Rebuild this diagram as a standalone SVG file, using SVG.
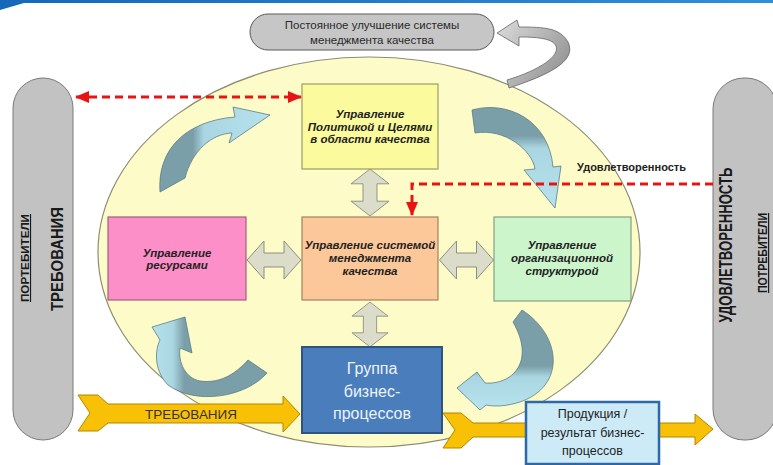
<svg xmlns="http://www.w3.org/2000/svg" xmlns:xlink="http://www.w3.org/1999/xlink" width="773" height="465" viewBox="0 0 773 465">
<defs>
<style>
.lbl{font-family:"Liberation Sans",Arial,sans-serif;font-weight:bold;font-style:italic;font-size:11.5px;fill:#222;text-anchor:middle}
.bar{fill:#c2c2c2;stroke:#7a7a7a;stroke-width:1}
.bartxt{font-family:"Liberation Sans",Arial,sans-serif;font-weight:bold;fill:#1a1a1a;text-anchor:middle}
.dash{fill:none;stroke:#e81414;stroke-width:3;stroke-dasharray:8 5}
.dbl{fill:#dcdccb;stroke:#8e8e7e;stroke-width:1}
.yarrow{fill:#f9c106;stroke:#b08600;stroke-width:1}
.carrow{stroke:#5b7c84;stroke-width:0.8}
.box{stroke-width:1.2}
</style>
<linearGradient id="topband" x1="0" y1="0" x2="1" y2="0">
<stop offset="0" stop-color="#1668b8"/><stop offset="1" stop-color="#2f8fd8"/>
</linearGradient>
<linearGradient id="grayArrow" gradientUnits="userSpaceOnUse" x1="500" y1="30" x2="570" y2="80">
<stop offset="0" stop-color="#d6d6d6"/><stop offset="1" stop-color="#8c8c8c"/>
</linearGradient>
<linearGradient id="gA1" gradientUnits="userSpaceOnUse" x1="160" y1="0" x2="270" y2="0">
<stop offset="0" stop-color="#7b9fa9"/><stop offset="0.3" stop-color="#7b9fa9"/><stop offset="0.4" stop-color="#aad6e2"/><stop offset="1" stop-color="#b6e2ee"/>
</linearGradient>
<linearGradient id="gA2" gradientUnits="userSpaceOnUse" x1="0" y1="105" x2="0" y2="208">
<stop offset="0" stop-color="#7b9fa9"/><stop offset="0.3" stop-color="#7b9fa9"/><stop offset="0.42" stop-color="#aad6e2"/><stop offset="1" stop-color="#b6e2ee"/>
</linearGradient>
<linearGradient id="gA3" gradientUnits="userSpaceOnUse" x1="0" y1="312" x2="0" y2="405">
<stop offset="0" stop-color="#7b9fa9"/><stop offset="0.58" stop-color="#7b9fa9"/><stop offset="0.7" stop-color="#aad6e2"/><stop offset="1" stop-color="#b6e2ee"/>
</linearGradient>
<linearGradient id="gA4" gradientUnits="userSpaceOnUse" x1="267" y1="0" x2="152" y2="0">
<stop offset="0" stop-color="#7b9fa9"/><stop offset="0.72" stop-color="#7b9fa9"/><stop offset="0.82" stop-color="#aad6e2"/><stop offset="1" stop-color="#b6e2ee"/>
</linearGradient>
<marker id="redhead" markerUnits="userSpaceOnUse" viewBox="0 0 14 12" markerWidth="14" markerHeight="12" refX="13" refY="6" orient="auto-start-reverse">
<path d="M0,0 L14,6 L0,12 Z" fill="#e81414"/>
</marker>
<path id="dblh" class="dbl" d="M-27,0 L-10,-19 L-10,-7 L10,-7 L10,-19 L27,0 L10,19 L10,7 L-10,7 L-10,19 Z"/>
</defs>

<rect width="773" height="465" fill="#ffffff"/>
<g id="top-band">
<polygon points="0,0 773,0 773,3 24,3 0,10" fill="url(#topband)"/>
</g>

<g id="ellipse">
<ellipse cx="369" cy="252" rx="271" ry="195" fill="#fdfcc9" stroke="#8d8d72" stroke-width="1.2"/>
</g>

<g id="left-bar">
<rect class="bar" x="13" y="78" width="60" height="362" rx="30"/>
<text class="bartxt" transform="translate(29,258) rotate(-90)" font-size="11" text-decoration="underline" textLength="88" lengthAdjust="spacingAndGlyphs">ПОРТЕБИТЕЛИ</text>
<text class="bartxt" transform="translate(63,259) rotate(-90)" font-size="16" textLength="104" lengthAdjust="spacingAndGlyphs">ТРЕБОВАНИЯ</text>
</g>

<g id="right-bar">
<rect class="bar" x="713" y="78" width="64" height="362" rx="31"/>
<text class="bartxt" transform="translate(732,245) rotate(-90)" font-size="19" textLength="155" lengthAdjust="spacingAndGlyphs">УДОВЛЕТВОРЕННОСТЬ</text>
<text class="bartxt" transform="translate(767,253) rotate(-90)" font-size="12" text-decoration="underline" textLength="80" lengthAdjust="spacingAndGlyphs">ПОТРЕБИТЕЛИ</text>
</g>

<g id="connectors">
<path d="M509,88 C545,76 578,62 568,42 C560,28 545,27 519,27 L517,20 L497,33 L519,46 L519,37 C540,37 553,39 556,46 C560,56 540,70 507,80 Z" fill="url(#grayArrow)" stroke="#666" stroke-width="0.8"/>
<path class="carrow" fill="url(#gA1)" d="M160,192 C157,150 185,121 235,117 L233,107 L270,115 L229,143 L232,133 C211,134 192,151 185,178 Z"/>
<path class="carrow" fill="url(#gA2)" d="M472,110 C507,100 549,120 553,167 L561,166 L555,208 L524,170 L535,169 C532,150 505,128 475,133 Z"/>
<path class="carrow" fill="url(#gA3)" d="M522,310 C562,336 566,386 520,402 C507,406 496,407 486,405 L480,410 L457,388 L477,372 L485,383 C512,385 536,362 513,322 Z"/>
<path class="carrow" fill="url(#gA4)" d="M267,373 C245,398 195,405 168,385 C155,372 154,352 160,340 L152,327 L185,317 L192,353 L180,348 C178,362 185,378 200,381 C222,384 237,372 248,360 Z"/>
<use xlink:href="#dblh" href="#dblh" transform="translate(274,260)"/>
<use xlink:href="#dblh" href="#dblh" transform="translate(466.5,260)"/>
<use xlink:href="#dblh" href="#dblh" transform="translate(370,192.5) rotate(90) scale(0.87,1)"/>
<use xlink:href="#dblh" href="#dblh" transform="translate(370,324.5) rotate(90) scale(0.83,0.95)"/>
<polyline class="dash" points="76,97 301,97" marker-start="url(#redhead)" marker-end="url(#redhead)"/>
<polyline class="dash" points="713,184 412,184 412,215" marker-end="url(#redhead)"/>
<text x="577" y="171" font-family="Liberation Sans, Arial, sans-serif" font-weight="bold" font-size="11" fill="#222">Удовлетворенность</text>
<polygon class="yarrow" points="78,395 98,395 108,404 283,404 283,396 300,414 283,432 283,423 108,423 98,431 78,431 90,413"/>
<text x="191" y="419" font-family="Liberation Sans, Arial, sans-serif" font-size="13.5" fill="#333" text-anchor="middle" textLength="92" lengthAdjust="spacingAndGlyphs">ТРЕБОВАНИЯ</text>
<polygon class="yarrow" points="443,413 461,413 473,423 695,423 695,414 713,429 695,445 695,437 473,437 461,448 443,448 455,430"/>
</g>

<g id="improve-box">
<rect x="250" y="14" width="244" height="36" rx="18" fill="#c6c6c6" stroke="#5a5a5a" stroke-width="1"/>
<text x="372" y="29" font-family="Liberation Sans, Arial, sans-serif" font-size="11.5" fill="#2a2a2a" text-anchor="middle">Постоянное улучшение системы</text>
<text x="372" y="44" font-family="Liberation Sans, Arial, sans-serif" font-size="11.5" fill="#2a2a2a" text-anchor="middle">менеджмента качества</text>
</g>

<g id="policy">
<rect class="box" x="302" y="84" width="136" height="85" fill="#fbfb9d" stroke="#9c9c6a"/>
<text class="lbl" x="370" y="118">Управление</text>
<text class="lbl" x="370" y="131">Политикой и Целями</text>
<text class="lbl" x="370" y="143">в области качества</text>
</g>

<g id="resources">
<rect class="box" x="108" y="217" width="138" height="83" fill="#fd8fc8" stroke="#a0607e"/>
<text class="lbl" x="177" y="257" fill="#2a1a2a">Управление</text>
<text class="lbl" x="177" y="269" fill="#2a1a2a">ресурсами</text>
</g>

<g id="qms">
<rect class="box" x="302" y="217" width="136" height="83" fill="#fcc899" stroke="#a08260"/>
<text class="lbl" x="370" y="249">Управление системой</text>
<text class="lbl" x="370" y="262">менеджмента</text>
<text class="lbl" x="370" y="275">качества</text>
</g>

<g id="org">
<rect class="box" x="494" y="217" width="137" height="84" fill="#ccf5cc" stroke="#80a080"/>
<text class="lbl" x="562" y="249">Управление</text>
<text class="lbl" x="562" y="262">организационной</text>
<text class="lbl" x="562" y="275">структурой</text>
</g>

<g id="bp">
<rect x="302" y="347" width="140" height="86" fill="#4a7dbb" stroke="#2d5382" stroke-width="2"/>
<text x="372" y="374" font-family="Liberation Sans, Arial, sans-serif" font-size="16" fill="#eef3fa" text-anchor="middle">Группа</text>
<text x="372" y="397" font-family="Liberation Sans, Arial, sans-serif" font-size="16" fill="#eef3fa" text-anchor="middle">бизнес-</text>
<text x="372" y="419" font-family="Liberation Sans, Arial, sans-serif" font-size="16" fill="#eef3fa" text-anchor="middle">процессов</text>
</g>

<g id="product">
<rect x="526" y="402" width="133" height="62" fill="#cdebf7" stroke="#2e68a6" stroke-width="2.5"/>
<text x="592.5" y="418" font-family="Liberation Sans, Arial, sans-serif" font-size="12.5" fill="#222" text-anchor="middle">Продукция /</text>
<text x="592.5" y="437" font-family="Liberation Sans, Arial, sans-serif" font-size="12.5" fill="#222" text-anchor="middle">результат бизнес-</text>
<text x="592.5" y="455" font-family="Liberation Sans, Arial, sans-serif" font-size="12.5" fill="#222" text-anchor="middle">процессов</text>
</g>
</svg>
